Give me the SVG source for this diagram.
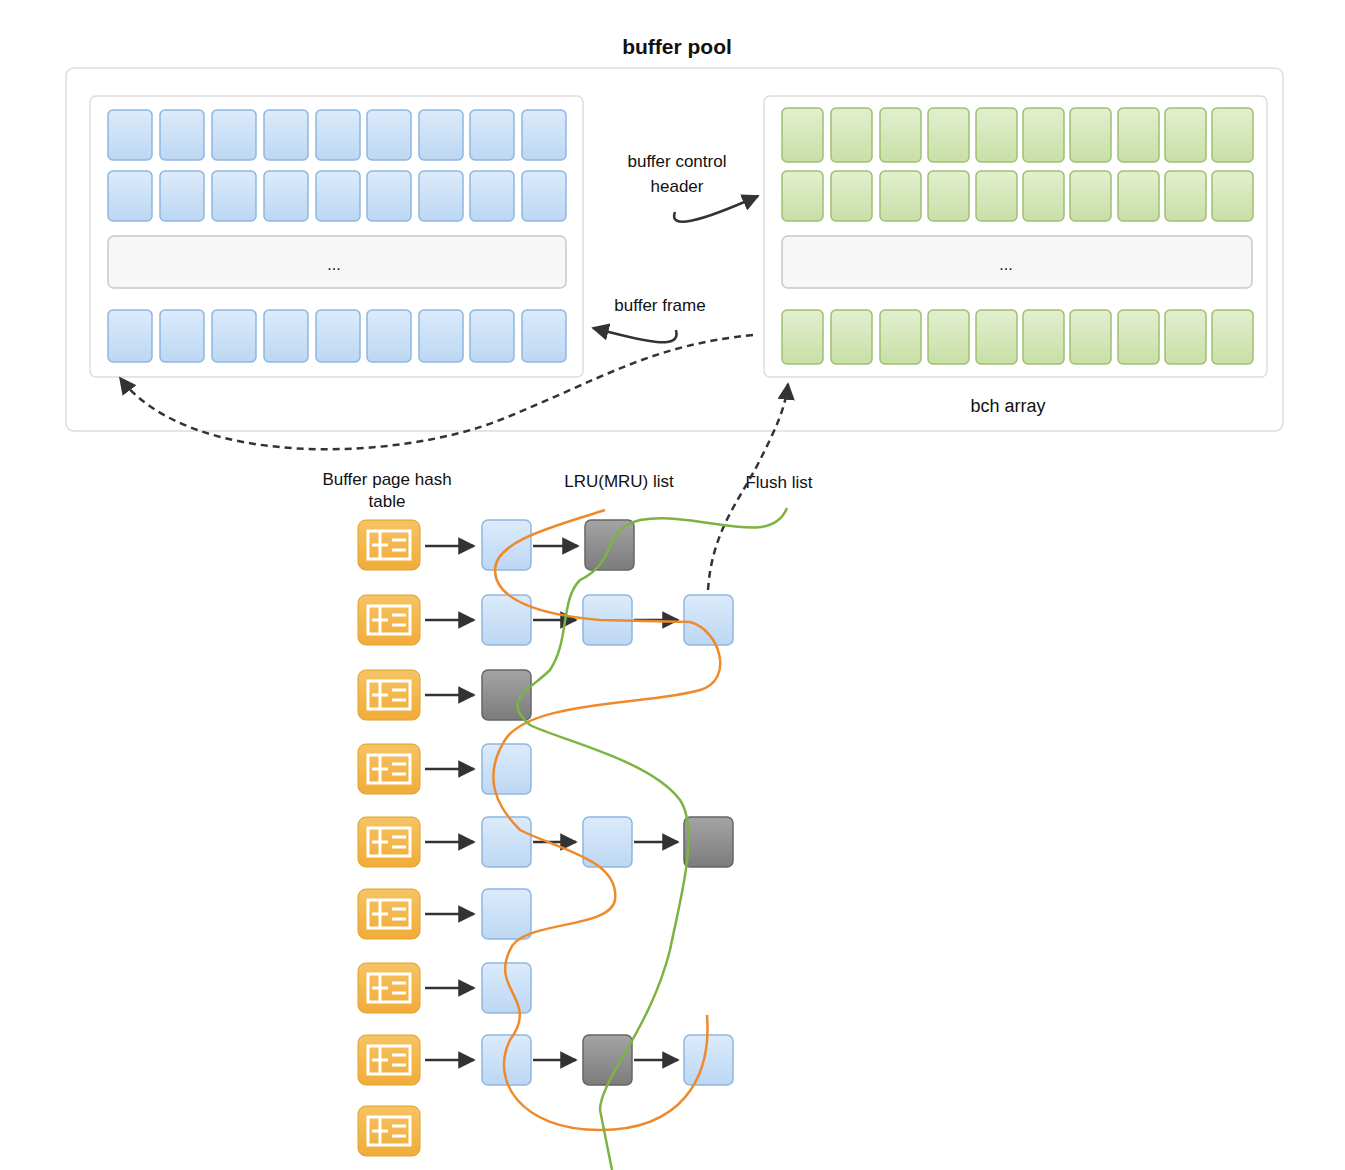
<svg xmlns="http://www.w3.org/2000/svg" width="1345" height="1170" viewBox="0 0 1345 1170">
<defs>
<linearGradient id="gb" x1="0" y1="0" x2="0" y2="1"><stop offset="0" stop-color="#dcebfb"/><stop offset="1" stop-color="#bcd7f3"/></linearGradient>
<linearGradient id="gg" x1="0" y1="0" x2="0" y2="1"><stop offset="0" stop-color="#e3efcf"/><stop offset="1" stop-color="#c8dfa6"/></linearGradient>
<linearGradient id="gy" x1="0" y1="0" x2="0" y2="1"><stop offset="0" stop-color="#f6c363"/><stop offset="1" stop-color="#f1ac38"/></linearGradient>
<linearGradient id="gd" x1="0" y1="0" x2="0" y2="1"><stop offset="0" stop-color="#a4a4a4"/><stop offset="1" stop-color="#7c7c7c"/></linearGradient>
<marker id="ah" viewBox="0 0 10 10" refX="9" refY="5" markerWidth="7" markerHeight="7" orient="auto"><path d="M0,0 L10,5 L0,10 z" fill="#333"/></marker>
<g id="icon"><rect x="0" y="0" width="62" height="50" rx="8" fill="url(#gy)" stroke="#e0a030"/><rect x="10" y="11" width="42" height="28" fill="none" stroke="#fff" stroke-width="3"/><path d="M22,11 V39 M14,25 H30 M34,20 H48 M34,30 H48" stroke="#fff" stroke-width="3"/></g>
</defs>
<style>
.b{fill:url(#gb);stroke:#8fb6e0;stroke-width:1.5}
.g{fill:url(#gg);stroke:#9fc070;stroke-width:1.5}
.d{fill:url(#gd);stroke:#666;stroke-width:1.5}
.p{fill:#fff;stroke:#ddd;stroke-width:1.5}
.bar{fill:#f7f7f7;stroke:#c8c8c8;stroke-width:1.5}
text{font-family:"Liberation Sans",Arial,sans-serif;fill:#111;text-anchor:middle}
.ar{stroke:#333;stroke-width:2.5;fill:none;marker-end:url(#ah)}
</style>
<rect width="1345" height="1170" fill="#fff"/>
<text x="677" y="54" font-size="21" font-weight="bold">buffer pool</text>
<g id="pool"><rect class="p" x="66" y="68" width="1217" height="363" rx="8"/></g>
<g id="frames">
<rect class="p" x="90" y="96" width="493" height="281" rx="6"/>
<g id="framecells">
<rect class="b" x="108" y="110" width="44" height="50" rx="5"/><rect class="b" x="160" y="110" width="44" height="50" rx="5"/><rect class="b" x="212" y="110" width="44" height="50" rx="5"/><rect class="b" x="264" y="110" width="44" height="50" rx="5"/><rect class="b" x="316" y="110" width="44" height="50" rx="5"/><rect class="b" x="367" y="110" width="44" height="50" rx="5"/><rect class="b" x="419" y="110" width="44" height="50" rx="5"/><rect class="b" x="470" y="110" width="44" height="50" rx="5"/><rect class="b" x="522" y="110" width="44" height="50" rx="5"/>
<rect class="b" x="108" y="171" width="44" height="50" rx="5"/><rect class="b" x="160" y="171" width="44" height="50" rx="5"/><rect class="b" x="212" y="171" width="44" height="50" rx="5"/><rect class="b" x="264" y="171" width="44" height="50" rx="5"/><rect class="b" x="316" y="171" width="44" height="50" rx="5"/><rect class="b" x="367" y="171" width="44" height="50" rx="5"/><rect class="b" x="419" y="171" width="44" height="50" rx="5"/><rect class="b" x="470" y="171" width="44" height="50" rx="5"/><rect class="b" x="522" y="171" width="44" height="50" rx="5"/>
<rect class="bar" x="108" y="236" width="458" height="52" rx="6"/><text x="334" y="270" font-size="16">...</text>
<rect class="b" x="108" y="310" width="44" height="52" rx="5"/><rect class="b" x="160" y="310" width="44" height="52" rx="5"/><rect class="b" x="212" y="310" width="44" height="52" rx="5"/><rect class="b" x="264" y="310" width="44" height="52" rx="5"/><rect class="b" x="316" y="310" width="44" height="52" rx="5"/><rect class="b" x="367" y="310" width="44" height="52" rx="5"/><rect class="b" x="419" y="310" width="44" height="52" rx="5"/><rect class="b" x="470" y="310" width="44" height="52" rx="5"/><rect class="b" x="522" y="310" width="44" height="52" rx="5"/>
</g></g>
<g id="bch">
<rect class="p" x="764" y="96" width="503" height="281" rx="6"/>
<rect class="g" x="782" y="108" width="41" height="54" rx="5"/><rect class="g" x="831" y="108" width="41" height="54" rx="5"/><rect class="g" x="880" y="108" width="41" height="54" rx="5"/><rect class="g" x="928" y="108" width="41" height="54" rx="5"/><rect class="g" x="976" y="108" width="41" height="54" rx="5"/><rect class="g" x="1023" y="108" width="41" height="54" rx="5"/><rect class="g" x="1070" y="108" width="41" height="54" rx="5"/><rect class="g" x="1118" y="108" width="41" height="54" rx="5"/><rect class="g" x="1165" y="108" width="41" height="54" rx="5"/><rect class="g" x="1212" y="108" width="41" height="54" rx="5"/>
<rect class="g" x="782" y="171" width="41" height="50" rx="5"/><rect class="g" x="831" y="171" width="41" height="50" rx="5"/><rect class="g" x="880" y="171" width="41" height="50" rx="5"/><rect class="g" x="928" y="171" width="41" height="50" rx="5"/><rect class="g" x="976" y="171" width="41" height="50" rx="5"/><rect class="g" x="1023" y="171" width="41" height="50" rx="5"/><rect class="g" x="1070" y="171" width="41" height="50" rx="5"/><rect class="g" x="1118" y="171" width="41" height="50" rx="5"/><rect class="g" x="1165" y="171" width="41" height="50" rx="5"/><rect class="g" x="1212" y="171" width="41" height="50" rx="5"/>
<rect class="bar" x="782" y="236" width="470" height="52" rx="6"/><text x="1006" y="270" font-size="16">...</text>
<rect class="g" x="782" y="310" width="41" height="54" rx="5"/><rect class="g" x="831" y="310" width="41" height="54" rx="5"/><rect class="g" x="880" y="310" width="41" height="54" rx="5"/><rect class="g" x="928" y="310" width="41" height="54" rx="5"/><rect class="g" x="976" y="310" width="41" height="54" rx="5"/><rect class="g" x="1023" y="310" width="41" height="54" rx="5"/><rect class="g" x="1070" y="310" width="41" height="54" rx="5"/><rect class="g" x="1118" y="310" width="41" height="54" rx="5"/><rect class="g" x="1165" y="310" width="41" height="54" rx="5"/><rect class="g" x="1212" y="310" width="41" height="54" rx="5"/>
<text x="1008" y="412" font-size="18">bch array</text>
</g>
<g id="labels">
<text x="677" y="167" font-size="17">buffer control</text>
<text x="677" y="192" font-size="17">header</text>
<text x="660" y="311" font-size="17">buffer frame</text>
<text x="387" y="485" font-size="17">Buffer page hash</text>
<text x="387" y="507" font-size="17">table</text>
<text x="619" y="487" font-size="17">LRU(MRU) list</text>
<text x="779" y="488" font-size="17">Flush list</text>
</g>
<g id="hash">
<use href="#icon" x="358" y="520"/><use href="#icon" x="358" y="595"/><use href="#icon" x="358" y="670"/><use href="#icon" x="358" y="744"/><use href="#icon" x="358" y="817"/><use href="#icon" x="358" y="889"/><use href="#icon" x="358" y="963"/><use href="#icon" x="358" y="1035"/><use href="#icon" x="358" y="1106"/>
</g>
<g id="pages">
<rect class="b" x="482" y="520" width="49" height="50" rx="6"/><rect class="d" x="585" y="520" width="49" height="50" rx="6"/>
<rect class="b" x="482" y="595" width="49" height="50" rx="6"/><rect class="b" x="583" y="595" width="49" height="50" rx="6"/><rect class="b" x="684" y="595" width="49" height="50" rx="6"/>
<rect class="d" x="482" y="670" width="49" height="50" rx="6"/>
<rect class="b" x="482" y="744" width="49" height="50" rx="6"/>
<rect class="b" x="482" y="817" width="49" height="50" rx="6"/><rect class="b" x="583" y="817" width="49" height="50" rx="6"/><rect class="d" x="684" y="817" width="49" height="50" rx="6"/>
<rect class="b" x="482" y="889" width="49" height="50" rx="6"/>
<rect class="b" x="482" y="963" width="49" height="50" rx="6"/>
<rect class="b" x="482" y="1035" width="49" height="50" rx="6"/><rect class="d" x="583" y="1035" width="49" height="50" rx="6"/><rect class="b" x="684" y="1035" width="49" height="50" rx="6"/>
</g>
<g id="connectors">
<path class="ar" d="M425,546 H474"/><path class="ar" d="M533,546 H578"/>
<path class="ar" d="M425,620 H474"/><path class="ar" d="M533,620 H576"/><path class="ar" d="M634,620 H678"/>
<path class="ar" d="M425,695 H474"/>
<path class="ar" d="M425,769 H474"/>
<path class="ar" d="M425,842 H474"/><path class="ar" d="M533,842 H576"/><path class="ar" d="M634,842 H678"/>
<path class="ar" d="M425,914 H474"/>
<path class="ar" d="M425,988 H474"/>
<path class="ar" d="M425,1060 H474"/><path class="ar" d="M533,1060 H576"/><path class="ar" d="M634,1060 H678"/>
<path class="ar" d="M675,212 C668,230 700,222 758,196"/>
<path class="ar" d="M676,330 C682,352 640,340 593,328"/>
<path class="ar" d="M753,335 C650,345 600,380 500,420 C400,460 190,470 120,378" stroke-dasharray="7,5" stroke-width="2"/>
<path class="ar" d="M708,590 C712,530 740,500 760,460 C775,430 785,410 788,384" stroke-dasharray="7,5" stroke-width="2"/>
<path d="M605,510 C560,525 495,540 495,570 C495,600 540,615 600,620 L690,622 C720,630 735,680 700,690 C650,705 530,700 505,740 C480,780 500,810 520,830 C560,850 620,860 615,900 C610,930 520,920 510,950 C490,990 540,1000 510,1040 C490,1080 520,1130 600,1130 C680,1130 712,1080 707,1015" fill="none" stroke="#ee8a2c" stroke-width="2.5"/>
<path d="M787,508 C770,550 700,510 640,520 C600,530 620,560 580,580 C560,600 570,640 550,670 C530,690 500,700 530,725 C560,740 650,760 680,800 C700,830 680,900 670,950 C650,1030 600,1080 600,1110 L612,1170" fill="none" stroke="#7cb342" stroke-width="2.5"/>
</g>
</svg>
